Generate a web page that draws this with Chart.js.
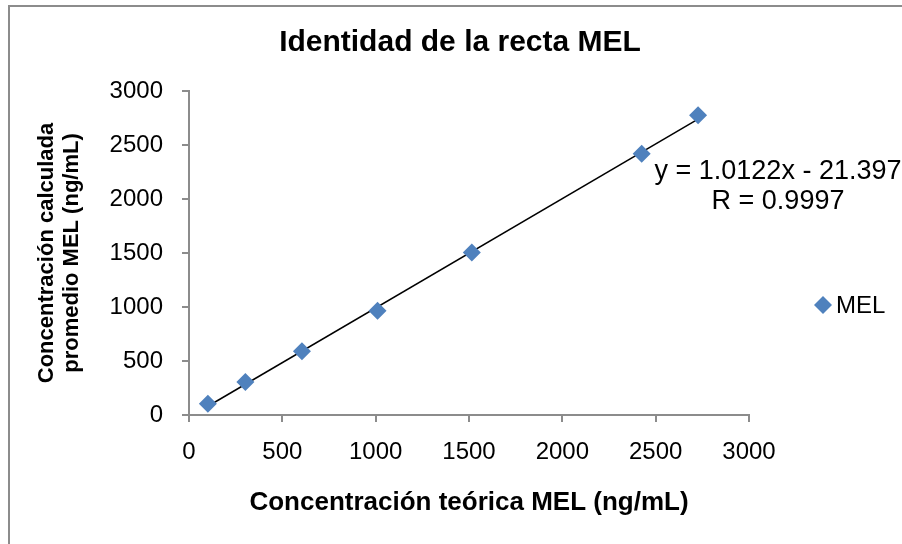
<!DOCTYPE html>
<html>
<head>
<meta charset="utf-8">
<script src="https://cdn.jsdelivr.net/npm/chart.js@4"></script>
<style>
  html, body { margin: 0; padding: 0; background: #fff; }
  #wrap { width: 902px; height: 544px; position: relative; }
</style>
</head>
<body>
<div id="wrap"><canvas id="chart" width="902" height="544"></canvas></div>
<script>
// valores
const teorica = [101, 302, 605, 1010, 1515, 2425, 2727];
const calculada = [105, 305, 590, 965, 1505, 2420, 2775];
const xTicks = [0, 500, 1000, 1500, 2000, 2500, 3000];
const yTicks = [0, 500, 1000, 1500, 2000, 2500, 3000];

// recta de tendencia (segun la ecuacion mostrada)
const pendiente = 1.0122;
const intercepto = -21.397;
const trendX = [101, 2727];

const azul = '#4F81BD';
const gris = '#8c8c8c';
const fuente = "'Liberation Sans', Arial, sans-serif";

const puntos = teorica.map((x, i) => ({ x: x, y: calculada[i] }));
const recta = trendX.map(x => ({ x: x, y: pendiente * x + intercepto }));

// marco, titulo, ecuacion y leyenda
const extras = {
  id: 'extras',
  beforeDraw(chart) {
    const c = chart.ctx;
    c.save();
    c.fillStyle = '#fff';
    c.fillRect(0, 0, chart.width, chart.height);
    c.strokeStyle = gris;
    c.lineWidth = 2;
    c.strokeRect(9, 6, chart.width + 10, chart.height + 10);
    c.restore();
  },
  afterDraw(chart) {
    const c = chart.ctx;
    c.save();
    c.fillStyle = '#000';
    c.textBaseline = 'middle';
    c.textAlign = 'center';
    c.font = 'bold 30px ' + fuente;
    c.fillText('Identidad de la recta MEL', 460, 43);

    c.font = '27px ' + fuente;
    c.fillText('y = 1.0122x - 21.397', 778, 172);
    c.fillText('R = 0.9997', 778, 202);

    // leyenda
    const lx = 823, ly = 305, r = 9;
    c.fillStyle = azul;
    c.beginPath();
    c.moveTo(lx, ly - r);
    c.lineTo(lx + r, ly);
    c.lineTo(lx, ly + r);
    c.lineTo(lx - r, ly);
    c.closePath();
    c.fill();
    c.fillStyle = '#000';
    c.textAlign = 'left';
    c.font = '24px ' + fuente;
    c.fillText('MEL', 836, 306);
    c.restore();
  }
};

new Chart(document.getElementById('chart'), {
  type: 'scatter',
  data: {
    datasets: [
      {
        label: 'Lineal (MEL)',
        type: 'line',
        data: recta,
        borderColor: '#000',
        borderWidth: 1.5,
        pointRadius: 0,
        fill: false,
        order: 2
      },
      {
        label: 'MEL',
        data: puntos,
        pointStyle: 'rectRot',
        pointRadius: 9,
        pointHoverRadius: 9,
        backgroundColor: azul,
        borderColor: azul,
        borderWidth: 0,
        order: 1
      }
    ]
  },
  options: {
    responsive: false,
    animation: false,
    layout: { padding: { top: 91, left: 0, right: 153, bottom: 0 } },
    plugins: {
      legend: { display: false },
      tooltip: { enabled: false }
    },
    scales: {
      x: {
        type: 'linear',
        min: 0,
        max: 3000,
        afterBuildTicks: (s) => { s.ticks = xTicks.map(v => ({ value: v })); },
        afterFit: (s) => { s.height = 129; },
        border: { color: gris, width: 2 },
        grid: { drawOnChartArea: false, drawTicks: true, tickLength: 7, color: gris, lineWidth: 2 },
        ticks: { color: '#000', font: { family: fuente, size: 24 }, padding: 16, callback: (v) => String(v) },
        title: {
          display: true,
          text: 'Concentración teórica MEL (ng/mL)',
          color: '#000',
          font: { family: fuente, size: 26, weight: 'bold' },
          padding: { top: 0, bottom: 26 }
        }
      },
      y: {
        type: 'linear',
        min: 0,
        max: 3000,
        afterBuildTicks: (s) => { s.ticks = yTicks.map(v => ({ value: v })); },
        afterFit: (s) => { s.width = 189; },
        border: { color: gris, width: 2 },
        grid: { drawOnChartArea: false, drawTicks: true, tickLength: 7, color: gris, lineWidth: 2 },
        ticks: { color: '#000', font: { family: fuente, size: 24 }, padding: 19, callback: (v) => String(v) },
        title: {
          display: true,
          text: ['Concentración calculada', 'promedio MEL (ng/mL)'],
          color: '#000',
          font: { family: fuente, size: 22, weight: 'bold', lineHeight: 1.15 },
          padding: { top: 34, bottom: 0 }
        }
      }
    }
  },
  plugins: [extras]
});
</script>
</body>
</html>
